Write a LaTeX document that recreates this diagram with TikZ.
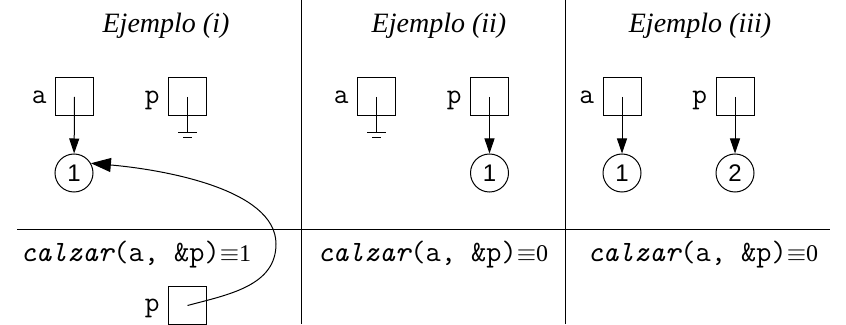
\documentclass[tikz,border=0pt]{standalone}
\usepackage{fontspec}
\setmainfont{Liberation Serif}
\setsansfont{Liberation Sans}
\usetikzlibrary{arrows.meta, positioning}

% simbolo de puntero nulo (tierra)
\newcommand{\tierra}[1]{%
  \draw (#1.center) -- ++(0,-36) ++(-9.5,0) -- ++(19,0) ++(-14,-5) -- ++(9,0);}

\begin{document}
\begin{tikzpicture}[x=1pt, y=1pt, line width=1pt,
    celda/.style={draw, minimum size=38pt, inner sep=0pt},
    valor/.style={draw, circle, minimum size=38pt, inner sep=0pt,
                  font=\sffamily\fontsize{24}{24}\selectfont},
    etiq/.style={font=\ttfamily\fontsize{28.5}{28.5}\selectfont, inner sep=0pt, text depth=0pt},
    titulo/.style={font=\itshape\fontsize{28}{28}\selectfont, anchor=base, inner sep=0pt},
    llamada/.style={anchor=base west, inner sep=0pt},
    flecha/.style={-{Triangle[length=15pt, width=10pt]}}]
  \useasboundingbox (0,0) rectangle (846,324);
  \newcommand{\calzar}[1]{{\ttfamily\fontsize{29.5}{29.5}\selectfont\itshape calzar\upshape(a, \&p)}{\fontsize{24}{24}\selectfont$\equiv$#1}}
  % separadores
  \draw (17,94) -- (830,94);
  \draw (301,0) -- (301,324);
  \draw (565,0) -- (565,324);
  % titulos
  \node[titulo] (t1) at (166,291) {Ejemplo (i)};
  \node[titulo] (t2) at (439,291) {Ejemplo (ii)};
  \node[titulo] (t3) at (700,291) {Ejemplo (iii)};
  % Ejemplo (i)
  \node[celda] (a1) at (74.5,227) {};
  \node[celda] (p1) at (187.5,227) {};
  \node[etiq, left=8pt of a1] (la1) {a};
  \node[etiq, left=8pt of p1] (lp1) {p};
  \node[valor] (v1) at (74,151) {1};
  \draw[flecha] (a1.center) -- (v1);
  \tierra{p1}
  \node[llamada] (c1) at (20,62) {\calzar{1}};
  \node[celda] (p4) at (187.5,18.5) {};
  \node[etiq, left=8pt of p4] (lp4) {p};
  \coordinate (curva) at (276,80);
  \draw[-{Triangle[length=20pt, width=14pt]}] (p4.center) to[out=15, in=-90] (curva)
    to[out=90, in=-5, out looseness=0.7, in looseness=0.9] (v1.30);
  % Ejemplo (ii)
  \node[celda] (a2) at (376.5,227) {};
  \node[celda] (p2) at (489.5,227) {};
  \node[etiq, left=8pt of a2] (la2) {a};
  \node[etiq, left=8pt of p2] (lp2) {p};
  \node[valor] (v2) at (489.5,151) {1};
  \tierra{a2}
  \draw[flecha] (p2.center) -- (v2);
  \node[llamada] (c2) at (317,62) {\calzar{0}};
  % Ejemplo (iii)
  \node[celda] (a3) at (622,227) {};
  \node[celda] (p3) at (735,227) {};
  \node[etiq, left=8pt of a3] (la3) {a};
  \node[etiq, left=8pt of p3] (lp3) {p};
  \node[valor] (v3) at (622,151) {1};
  \node[valor] (v4) at (735,151) {2};
  \draw[flecha] (a3.center) -- (v3);
  \draw[flecha] (p3.center) -- (v4);
  \node[llamada] (c3) at (587,62) {\calzar{0}};
\end{tikzpicture}
\end{document}
